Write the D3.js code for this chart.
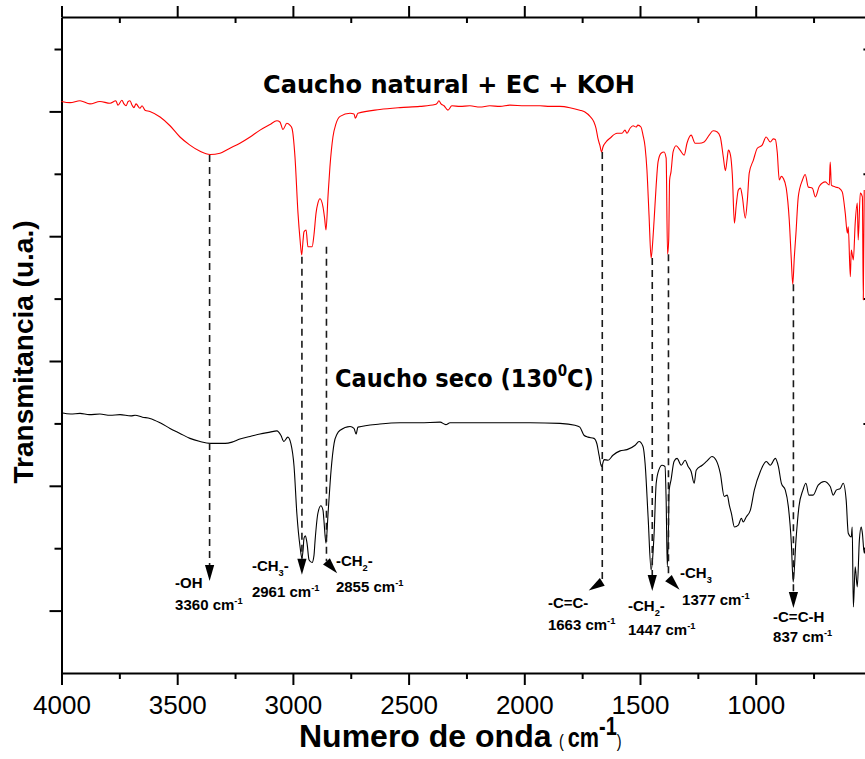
<!DOCTYPE html>
<html>
<head>
<meta charset="utf-8">
<script src="https://cdn.jsdelivr.net/npm/d3@7"></script>
<style>
  html, body { margin: 0; padding: 0; background: #ffffff; }
  svg { display: block; }
</style>
</head>
<body>
<svg id="chart" width="865" height="759"></svg>
<script>
// ---------------- DATA ----------------
const xMajorTicks = [4000, 3500, 3000, 2500, 2000, 1500, 1000];
const xMinorTicks = [3750, 3250, 2750, 2250, 1750, 1250, 750];
const yMajorTicks = [10, 30, 50, 70, 90];
const yMinorTicks = [20, 40, 60, 80, 100];

// Caucho natural + EC + KOH (red)
const redWavenumber = [4000,3963,3920,3877,3834,3790,3765,3756,3739,3730,3721,3712,3704,3695,3687,3678,3661,3652,3639,3618,
  3574,3531,3488,3445,3401,3358,3315,3272,3229,3185,3142,3099,3069,3056,3043,3026,3013,3004,2991,2978,
  2969,2962,2956,2952,2943,2935,2917,2909,2900,2892,2883,2870,2863,2857,2848,2840,2827,2814,2796,2753,
  2736,2730,2719,2624,2537,2451,2386,2377,2369,2360,2347,2330,2313,2278,2235,2192,2149,2105,2062,1997,
  1932,1889,1846,1803,1760,1738,1716,1699,1690,1682,1673,1666,1660,1647,1630,1599,1578,1565,1556,1543,
  1530,1517,1509,1496,1487,1478,1470,1461,1452,1446,1439,1430,1422,1409,1396,1387,1381,1376,1372,1366,
  1357,1344,1327,1309,1297,1279,1262,1244,1223,1201,1184,1166,1153,1140,1131,1124,1118,1109,1101,1092,
  1084,1075,1066,1058,1045,1036,1028,1010,993,972,955,937,924,915,907,898,889,881,868,855,
  846,840,833,826,816,798,786,773,755,742,725,699,682,678,673,656,639,626,613,604,
  600,591,587,578,570,561,557,548,539,535,531];
const redTransmittance = [91.6,91.4,91.7,91.2,91.6,91.3,91.7,91.0,91.8,91.2,90.9,91.6,91.7,91.0,90.6,91.2,90.5,90.9,90.2,90.0,
  89.1,87.7,85.9,84.6,83.6,83.1,83.3,84.1,84.9,85.9,87.0,87.9,88.5,88.3,87.1,88.1,87.8,87.3,82.7,73.7,
  69.4,67.0,69.4,70.7,71.0,68.3,68.3,70.2,73.7,75.3,76.0,74.7,72.9,71.0,76.6,81.1,85.9,88.0,89.2,89.7,
  89.6,88.9,89.7,90.3,90.6,90.8,91.1,91.3,91.7,91.2,90.9,90.2,90.9,90.8,90.9,90.7,90.9,90.8,91.0,90.9,
  90.9,90.8,90.8,90.6,90.2,89.9,89.2,88.3,87.3,85.7,84.5,83.5,84.3,85.1,85.7,86.5,86.5,87.0,86.5,87.3,
  87.7,87.5,87.8,87.5,86.2,84.3,80.6,73.4,66.5,68.6,72.6,78.2,81.9,83.3,83.5,82.5,67.1,69.4,79.0,80.3,
  83.5,84.5,83.8,83.0,84.9,86.2,84.9,84.9,85.1,86.2,86.9,86.7,85.9,82.7,80.5,82.2,83.8,83.0,79.8,72.1,
  75.0,77.4,77.7,76.4,72.9,75.8,80.1,82.2,84.1,84.6,85.9,85.1,85.6,85.5,83.5,79.0,79.6,79.3,77.7,72.6,
  66.2,62.3,66.7,70.5,76.3,79.0,79.9,77.9,77.7,76.3,78.0,78.7,78.2,81.9,78.2,77.9,77.7,77.1,73.7,70.5,
  71.5,63.5,67.8,66.2,72.1,75.3,69.4,76.9,76.3,59.8,77.4];

// Caucho seco (130 °C) (black)
const blackWavenumber = [4000,3960,3920,3880,3834,3790,3747,3700,3682,3650,3618,3574,3531,3488,3445,3401,3358,3293,3263,3229,
  3185,3142,3099,3069,3052,3039,3022,3009,2995,2983,2969,2961,2956,2952,2946,2939,2930,2917,2909,2904,
  2892,2879,2870,2866,2857,2848,2835,2822,2809,2796,2753,2736,2727,2719,2624,2537,2451,2364,2339,2321,
  2235,2105,1975,1846,1781,1760,1742,1725,1699,1686,1677,1666,1655,1638,1617,1586,1556,1521,1504,1487,
  1478,1465,1452,1446,1439,1430,1418,1405,1392,1387,1382,1377,1374,1366,1353,1340,1322,1305,1292,1279,
  1266,1257,1231,1210,1189,1171,1153,1136,1123,1114,1105,1092,1075,1062,1054,1041,1023,1006,980,954,
  937,915,902,889,872,859,846,838,826,813,796,783,770,752,730,704,678,665,652,634,
  622,609,600,587,583,578,570,561,552,544,539,531,526];
const blackTransmittance = [41.7,41.5,41.6,41.4,41.5,41.3,41.4,41.2,41.3,41.0,40.8,40.1,39.2,38.4,37.6,37.1,36.8,36.8,37.0,37.5,
  37.9,38.3,38.6,38.8,38.1,37.1,37.8,36.8,33.1,25.6,20.2,18.4,19.7,21.6,22.0,20.8,18.1,17.7,18.8,21.3,
  25.6,26.8,26.1,24.5,20.8,25.6,32.5,36.8,38.3,38.9,39.5,39.2,38.3,39.4,39.9,40.1,40.1,40.2,39.8,40.1,
  40.1,40.1,40.1,40.0,39.7,39.4,38.1,37.8,37.6,36.7,34.9,33.1,34.2,34.1,34.9,35.6,35.8,36.5,37.1,36.3,
  33.6,25.0,16.5,18.1,22.4,30.4,32.6,33.3,33.1,27.7,17.0,22.9,29.3,30.9,33.9,34.4,33.3,34.1,33.1,32.3,
  30.4,32.5,33.3,34.0,34.7,34.1,32.0,28.3,28.5,26.9,25.6,23.4,23.7,24.8,24.2,25.0,26.1,29.3,32.3,33.9,
  33.3,34.4,33.1,30.4,29.3,26.7,20.8,14.6,21.3,26.7,29.3,30.4,28.5,28.5,30.1,30.7,29.9,28.5,29.3,29.6,
  30.4,27.7,22.4,21.8,23.4,10.6,17.0,13.8,21.3,23.4,22.4,19.2,20.2];

// Peak assignments
const peakWavenumbers = [3360, 2961, 2855, 1663, 1447, 1377, 837];
const peakGroups = [
  [["-OH", ""]],
  [["-CH", ""], ["3", "sub"], ["-", ""]],
  [["-CH", ""], ["2", "sub"], ["-", ""]],
  [["-C=C-", ""]],
  [["-CH", ""], ["2", "sub"], ["-", ""]],
  [["-CH", ""], ["3", "sub"]],
  [["-C=C-H", ""]]
];
const peakLineTop = [83.0, 66.7, 68.3, 83.5, 66.5, 67.1, 62.3];   // start of dashed guide (red curve)
const peakLineEnd = [17.3, 18.3, 17.9, 14.6, 15.7, 15.2, 13.0];   // arrow head base

const seriesNames = ["Caucho natural + EC + KOH", "Caucho seco (130"];

// ---------------- LAYOUT ----------------
const plot = { left: 61.5, right: 871.4, top: 17, bottom: 673 };
// arrow head direction (deg, 90 = straight down) and label anchors (wavenumber, transmittance)
const arrowAngle = [90, 90, 48, 148, 90, 46, 90];
const groupLabelAt = [[3509, 13.6], [3177, 16.3], [2814, 17.1], [1898, 10.4], [1552, 9.9], [1327, 15.2], [925, 8.2]];
const numberLabelAt = [[3509, 10.1], [3177, 12.2], [2814, 13.0], [1898, 6.9], [1552, 6.1], [1318, 10.9], [925, 5.0]];

const svg = d3.select("#chart");
const x = d3.scaleLinear().domain([4000, 500]).range([plot.left, plot.right]);
const y = d3.scaleLinear().domain([0, 105.13]).range([plot.bottom, plot.top]);

const AX_FONT = "'Liberation Sans', Arial, Helvetica, sans-serif";

function styleAxis(g, keepDomain) {
  g.selectAll("line").attr("stroke", "#000").attr("stroke-width", 2);
  if (keepDomain) g.select(".domain").attr("stroke", "#000").attr("stroke-width", 2);
  else g.select(".domain").remove();
}

// Bottom axis
svg.append("g").attr("transform", `translate(0,${plot.bottom})`)
  .call(d3.axisBottom(x).tickValues(xMajorTicks).tickSize(12).tickSizeOuter(0).tickPadding(11).tickFormat(d3.format("d")))
  .call(g => styleAxis(g, true))
  .call(g => g.selectAll("text").attr("font-family", AX_FONT).attr("font-size", 26).attr("fill", "#000"));
svg.append("g").attr("transform", `translate(0,${plot.bottom})`)
  .call(d3.axisBottom(x).tickValues(xMinorTicks).tickSize(6).tickFormat(""))
  .call(g => styleAxis(g, false));

// Top axis (major out, minor in)
svg.append("g").attr("transform", `translate(0,${plot.top})`)
  .call(d3.axisTop(x).tickValues(xMajorTicks).tickSize(11).tickSizeOuter(0).tickFormat(""))
  .call(g => styleAxis(g, true));
svg.append("g").attr("transform", `translate(0,${plot.top})`)
  .call(d3.axisBottom(x).tickValues(xMinorTicks).tickSize(6).tickFormat(""))
  .call(g => styleAxis(g, false));

// Left axis
svg.append("g").attr("transform", `translate(${plot.left},0)`)
  .call(d3.axisLeft(y).tickValues(yMajorTicks).tickSize(12).tickSizeOuter(0).tickFormat(""))
  .call(g => styleAxis(g, true));
svg.append("g").attr("transform", `translate(${plot.left},0)`)
  .call(d3.axisLeft(y).tickValues(yMinorTicks).tickSize(7).tickFormat(""))
  .call(g => styleAxis(g, false));

// Right axis (major out, minor in)
svg.append("g").attr("transform", `translate(${plot.right},0)`)
  .call(d3.axisRight(y).tickValues(yMajorTicks).tickSize(12).tickSizeOuter(0).tickFormat(""))
  .call(g => styleAxis(g, true));
svg.append("g").attr("transform", `translate(${plot.right},0)`)
  .call(d3.axisLeft(y).tickValues(yMinorTicks).tickSize(8).tickFormat(""))
  .call(g => styleAxis(g, false));

// Curves
const line = d3.line().x(d => x(d[0])).y(d => y(d[1])).curve(d3.curveMonotoneX);
const redData = redWavenumber.map((w, i) => [w, redTransmittance[i]]);
const blackData = blackWavenumber.map((w, i) => [w, blackTransmittance[i]]);

svg.append("path").datum(blackData).attr("d", line)
  .attr("fill", "none").attr("stroke", "#000").attr("stroke-width", 1.1).attr("stroke-linejoin", "round");
svg.append("path").datum(redData).attr("d", line)
  .attr("fill", "none").attr("stroke", "#ff0000").attr("stroke-width", 1.1).attr("stroke-linejoin", "round");

// Peak guides + arrows
const ann = svg.append("g");
peakWavenumbers.forEach((w, i) => {
  const px = x(w);
  const y0 = y(peakLineTop[i]);
  const y1 = y(peakLineEnd[i]);
  ann.append("line").attr("x1", px).attr("x2", px).attr("y1", y0).attr("y2", y1)
    .attr("stroke", "#1a1a1a").attr("stroke-width", 1.6).attr("stroke-dasharray", "7,5");
  const a = arrowAngle[i] * Math.PI / 180;
  const L = 16, hw = 4.6;
  const tipX = px + L * Math.cos(a), tipY = y1 + L * Math.sin(a);
  const nx = -Math.sin(a), ny = Math.cos(a);
  ann.append("path")
    .attr("d", `M${tipX},${tipY} L${px + nx * hw},${y1 + ny * hw} L${px - nx * hw},${y1 - ny * hw} Z`)
    .attr("fill", "#000");
});

// Rich text helper
const LBL_FONT = "'Liberation Sans', Arial, Helvetica, sans-serif";
function richText(g, px, py, parts, size) {
  const t = g.append("text").attr("x", px).attr("y", py)
    .attr("font-family", LBL_FONT).attr("font-weight", "bold").attr("font-size", size).attr("fill", "#000");
  let shift = 0;
  parts.forEach(([s, kind]) => {
    let target = 0;
    if (kind === "sub") target = size * 0.3;
    if (kind === "sup") target = -size * 0.4;
    const sp = t.append("tspan").attr("dy", target - shift).text(s);
    if (kind) sp.attr("font-size", size * 0.62);
    shift = target;
  });
  return t;
}

peakWavenumbers.forEach((w, i) => {
  richText(ann, x(groupLabelAt[i][0]), y(groupLabelAt[i][1]), peakGroups[i], 15);
  richText(ann, x(numberLabelAt[i][0]), y(numberLabelAt[i][1]),
    [[String(w) + " cm", ""], ["-1", "sup"]], 15);
});

// Series labels
const SERIES_FONT = "'DejaVu Sans', Verdana, sans-serif";
svg.append("text").attr("x", 263).attr("y", 93)
  .attr("font-family", SERIES_FONT).attr("font-weight", "bold").attr("font-size", 24.5)
  .attr("textLength", 372).attr("lengthAdjust", "spacingAndGlyphs")
  .text(seriesNames[0]);
{
  const t = svg.append("text").attr("transform", "translate(335,387) scale(0.9,1)")
    .attr("font-family", SERIES_FONT).attr("font-weight", "bold").attr("font-size", 25);
  t.append("tspan").text(seriesNames[1]);
  t.append("tspan").attr("font-size", 15).attr("dy", -11).text("0");
  t.append("tspan").attr("dy", 11).text("C)");
}

// Axis titles
svg.append("text").attr("x", 299).attr("y", 747).attr("fill", "#000")
  .attr("font-family", AX_FONT).attr("font-weight", "bold").attr("font-size", 32)
  .text("Numero de onda");
{
  const t = svg.append("text").attr("transform", "translate(559,747) scale(0.8,1)")
    .attr("fill", "#000").attr("font-family", AX_FONT);
  t.append("tspan").attr("font-size", 18).text("( ");
  t.append("tspan").attr("font-weight", "bold").attr("font-size", 27).text("cm");
  t.append("tspan").attr("font-weight", "bold").attr("font-size", 25).attr("dy", -12).text("-1");
  t.append("tspan").attr("font-size", 18).attr("dy", 12).text(")");
}
svg.append("text")
  .attr("transform", `translate(33,352) rotate(-90)`)
  .attr("text-anchor", "middle")
  .attr("font-family", AX_FONT).attr("font-weight", "bold").attr("font-size", 28).attr("fill", "#000")
  .text("Transmitancia (u.a.)");
</script>
</body>
</html>
